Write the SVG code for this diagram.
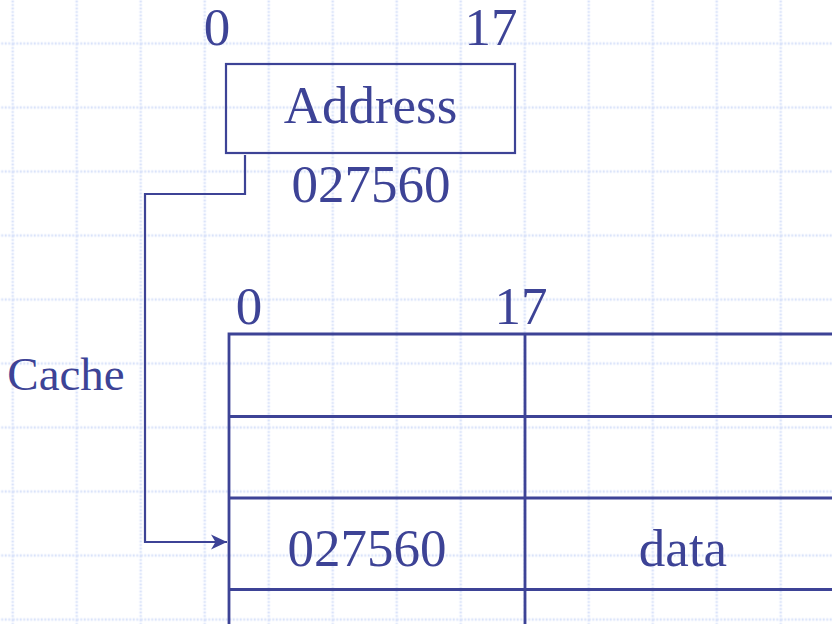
<svg xmlns="http://www.w3.org/2000/svg" width="832" height="624" viewBox="0 0 832 624">
<style>
.t{font-family:"Liberation Serif","Times New Roman","DejaVu Serif",serif;font-size:53px;fill:#3d4396;text-anchor:middle}
.ln{fill:none;stroke:#3d4396;stroke-width:2.8}
.cn{fill:none;stroke:#3d4396;stroke-width:2.2}
.grid{stroke:#dae3fa;stroke-width:2.5;stroke-dasharray:2 1.5}
</style>
<defs>
<marker id="arr" viewBox="0 0 17 17" refX="16" refY="8.5" markerWidth="17" markerHeight="17" markerUnits="userSpaceOnUse" orient="auto">
<path d="M0,1 L16,8.5 L0,16 L4.5,8.5 Z" fill="#3d4396"/>
</marker>
<pattern id="gp" x="12.7" y="43.5" width="64" height="64" patternUnits="userSpaceOnUse">
<line class="grid" x1="0" y1="0" x2="0" y2="64"/>
<line class="grid" x1="64" y1="0" x2="64" y2="64"/>
<line class="grid" x1="0" y1="0" x2="64" y2="0"/>
<line class="grid" x1="0" y1="64" x2="64" y2="64"/>
</pattern>
</defs>
<rect width="832" height="624" fill="#ffffff"/>
<rect width="832" height="624" fill="url(#gp)"/>
<g id="address">
<rect class="cn" x="226" y="64" width="289" height="89"/>
<text class="t" x="370.5" y="123">Address</text>
<text class="t" x="217" y="45">0</text>
<text class="t" x="491" y="45">17</text>
<text class="t" x="371" y="202">027560</text>
</g>
<g id="cache">
<text class="t" x="66" y="390" style="font-size:47px">Cache</text>
<text class="t" x="249" y="324">0</text>
<text class="t" x="521" y="324">17</text>
<path class="ln" d="M229,624 V334 H834 M229,416.5 H834 M229,498 H834 M229,589.5 H834 M525,334 V624"/>
<text class="t" x="367" y="566">027560</text>
<text class="t" x="683" y="566">data</text>
</g>
<g id="connectors">
<path class="cn" d="M245,155 V194 H145 V542 H227" marker-end="url(#arr)"/>
</g>
</svg>
